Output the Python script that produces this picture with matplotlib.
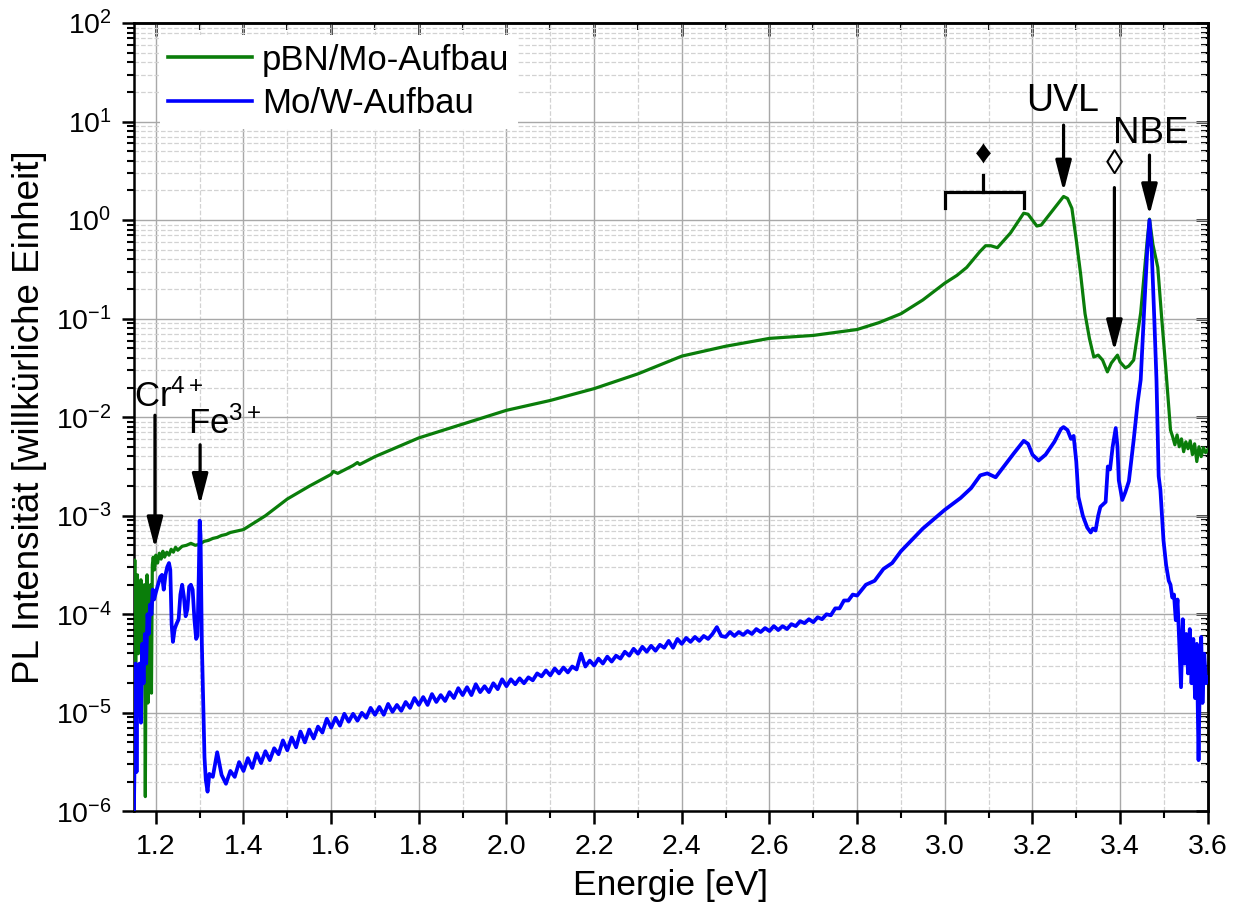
import matplotlib
matplotlib.use('Agg')
import matplotlib.pyplot as plt
import numpy as np
from matplotlib.ticker import LogLocator, LogFormatterMathtext, MultipleLocator, NullFormatter

plt.rcParams['font.family'] = ['Liberation Sans', 'DejaVu Sans']
plt.rcParams['mathtext.fontset'] = 'custom'
plt.rcParams['mathtext.rm'] = 'Liberation Sans'
plt.rcParams['mathtext.it'] = 'Liberation Sans:italic'
plt.rcParams['mathtext.bf'] = 'Liberation Sans:bold'

# pBN/Mo-Aufbau: Energie [eV] und log10 der PL-Intensitaet
green_e = [1.150, 1.152, 1.154, 1.156, 1.158, 1.160, 1.162, 1.164, 1.166, 1.168,
           1.170, 1.172, 1.174, 1.176, 1.178, 1.180, 1.182, 1.184, 1.186, 1.188,
           1.190, 1.192, 1.194, 1.197, 1.200, 1.204, 1.208, 1.212, 1.216, 1.220,
           1.225, 1.230, 1.235, 1.240, 1.245, 1.250, 1.260, 1.270, 1.280, 1.290,
           1.300, 1.310, 1.320, 1.330, 1.340, 1.350, 1.360, 1.370, 1.380, 1.400,
           1.450, 1.500, 1.550, 1.600, 1.605, 1.615, 1.650, 1.660, 1.665, 1.700,
           1.800, 1.900, 2.000, 2.100, 2.200, 2.300, 2.400, 2.500, 2.600, 2.700,
           2.800, 2.850, 2.900, 2.950, 3.000, 3.028, 3.050, 3.080, 3.093, 3.105,
           3.120, 3.150, 3.180, 3.190, 3.210, 3.220, 3.250, 3.271, 3.280, 3.290,
           3.300, 3.310, 3.320, 3.330, 3.340, 3.350, 3.360, 3.371, 3.380, 3.394,
           3.400, 3.412, 3.420, 3.431, 3.440, 3.447, 3.455, 3.462, 3.467, 3.475,
           3.486, 3.495, 3.504, 3.515, 3.520, 3.525, 3.530, 3.535, 3.540, 3.545,
           3.550, 3.555, 3.560, 3.565, 3.570, 3.575, 3.580, 3.585, 3.590, 3.595,
           3.600]
green_log10 = [-4.30, -3.45, -4.50, -3.90, -3.60, -4.40, -3.70, -4.10, -3.65, -4.60,
               -3.80, -4.20, -3.70, -5.85, -4.00, -3.60, -4.90, -3.75, -4.30, -3.70,
               -4.80, -3.50, -3.42, -3.55, -3.40, -3.48, -3.38, -3.44, -3.36, -3.42,
               -3.37, -3.40, -3.34, -3.37, -3.32, -3.35, -3.31, -3.30, -3.28, -3.30,
               -3.29, -3.26, -3.25, -3.23, -3.22, -3.20, -3.19, -3.17, -3.16, -3.14,
               -3.00, -2.83, -2.70, -2.58, -2.55, -2.57, -2.49, -2.46, -2.48, -2.40,
               -2.21, -2.07, -1.93, -1.83, -1.71, -1.56, -1.38, -1.28, -1.20, -1.17,
               -1.11, -1.04, -0.95, -0.81, -0.64, -0.56, -0.48, -0.32, -0.26, -0.26,
               -0.28, -0.13, 0.07, 0.06, -0.06, -0.05, 0.12, 0.24, 0.22, 0.12,
               -0.20, -0.55, -0.95, -1.20, -1.39, -1.37, -1.42, -1.54, -1.45, -1.37,
               -1.44, -1.50, -1.48, -1.42, -1.15, -0.94, -0.55, -0.20, 0.01, -0.25,
               -0.48, -1.00, -1.49, -2.13, -2.20, -2.28, -2.18, -2.30, -2.22, -2.35,
               -2.25, -2.32, -2.24, -2.38, -2.27, -2.45, -2.30, -2.40, -2.31, -2.36,
               -2.33]

# Mo/W-Aufbau
blue_e = [1.150, 1.152, 1.154, 1.156, 1.158, 1.160, 1.163, 1.166, 1.169, 1.172,
          1.175, 1.178, 1.181, 1.184, 1.187, 1.190, 1.193, 1.196, 1.200, 1.205,
          1.210, 1.214, 1.218, 1.222, 1.226, 1.230, 1.233, 1.236, 1.239, 1.243,
          1.247, 1.252, 1.256, 1.260, 1.264, 1.268, 1.272, 1.276, 1.280, 1.284,
          1.288, 1.292, 1.295, 1.298, 1.300, 1.302, 1.305, 1.308, 1.311, 1.314,
          1.318, 1.322,
          1.33, 1.34, 1.35, 1.36, 1.37, 1.38, 1.39, 1.40, 1.41, 1.42,
          1.43, 1.44, 1.45, 1.46, 1.47, 1.48, 1.49, 1.50, 1.51, 1.52,
          1.53, 1.54, 1.55, 1.56, 1.57, 1.58, 1.59, 1.60, 1.61, 1.62,
          1.63, 1.64, 1.65, 1.66, 1.67, 1.68, 1.69, 1.70, 1.71, 1.72,
          1.73, 1.74, 1.75, 1.76, 1.77, 1.78, 1.79, 1.80, 1.81, 1.82,
          1.83, 1.84, 1.85, 1.86, 1.87, 1.88, 1.89, 1.90, 1.91, 1.92,
          1.93, 1.94, 1.95, 1.96, 1.97, 1.98, 1.99, 2.00, 2.01, 2.02,
          2.03, 2.04, 2.05, 2.06, 2.07, 2.08, 2.09, 2.10, 2.11, 2.12,
          2.13, 2.14, 2.15, 2.16, 2.17, 2.18, 2.19, 2.20, 2.21, 2.22,
          2.23, 2.24, 2.25, 2.26, 2.27, 2.28, 2.29, 2.30, 2.31, 2.32,
          2.33, 2.34, 2.35, 2.36, 2.37, 2.38, 2.39, 2.40, 2.41, 2.42,
          2.43, 2.44, 2.45, 2.46, 2.47, 2.48, 2.49, 2.50, 2.51, 2.52,
          2.53, 2.54, 2.55, 2.56, 2.57, 2.58, 2.59, 2.60, 2.61, 2.62,
          2.63, 2.64, 2.65, 2.66, 2.67, 2.68, 2.69, 2.70, 2.71, 2.72,
          2.73, 2.74, 2.75, 2.76, 2.77, 2.78, 2.79, 2.80, 2.82, 2.84,
          2.86, 2.88, 2.90, 2.95,
          3.000, 3.036, 3.060, 3.081, 3.097, 3.116, 3.140, 3.157, 3.180, 3.190,
          3.200, 3.214, 3.230, 3.250, 3.265, 3.271, 3.280, 3.288, 3.294, 3.300,
          3.305, 3.315, 3.325, 3.333, 3.338, 3.344, 3.350, 3.355, 3.367, 3.372,
          3.377, 3.383, 3.390, 3.394, 3.397, 3.405, 3.412, 3.420, 3.431, 3.440,
          3.447, 3.455, 3.462, 3.467, 3.472, 3.478, 3.483, 3.488, 3.492, 3.499,
          3.505, 3.511, 3.515, 3.519, 3.523, 3.527, 3.531, 3.535, 3.539, 3.543,
          3.547, 3.551, 3.555, 3.559, 3.563, 3.567, 3.571, 3.575, 3.579, 3.582,
          3.585, 3.588, 3.592, 3.596, 3.600]
blue_log10 = [-6.00, -5.30, -4.50, -5.60, -4.60, -4.90, -4.50, -5.10, -4.30, -4.70,
              -4.20, -4.50, -4.00, -4.20, -3.90, -4.00, -3.75, -3.85, -3.78, -3.70,
              -3.62, -3.60, -3.75, -3.60, -3.52, -3.48, -3.55, -4.10, -4.28, -4.15,
              -4.10, -4.05, -3.80, -3.70, -3.82, -4.02, -3.95, -3.72, -3.70, -3.75,
              -4.05, -4.25, -4.22, -3.60, -3.05, -3.20, -4.30, -4.90, -5.45, -5.68,
              -5.80, -5.62,
              -5.65, -5.40, -5.63, -5.72, -5.59, -5.65, -5.50, -5.59, -5.46, -5.56,
              -5.41, -5.51, -5.39, -5.48, -5.36, -5.42, -5.28, -5.38, -5.25, -5.35,
              -5.19, -5.30, -5.17, -5.26, -5.14, -5.20, -5.06, -5.15, -5.05, -5.13,
              -5.01, -5.09, -5.01, -5.08, -5.00, -5.05, -4.95, -5.02, -4.94, -5.02,
              -4.91, -4.99, -4.92, -4.98, -4.89, -4.95, -4.85, -4.92, -4.84, -4.92,
              -4.81, -4.89, -4.82, -4.88, -4.79, -4.85, -4.75, -4.82, -4.74, -4.82,
              -4.71, -4.79, -4.73, -4.79, -4.70, -4.76, -4.66, -4.73, -4.66, -4.71,
              -4.65, -4.70, -4.64, -4.67, -4.60, -4.63, -4.57, -4.62, -4.55, -4.60,
              -4.54, -4.59, -4.53, -4.56, -4.40, -4.53, -4.47, -4.52, -4.45, -4.50,
              -4.43, -4.48, -4.42, -4.45, -4.38, -4.42, -4.35, -4.40, -4.33, -4.38,
              -4.32, -4.37, -4.31, -4.34, -4.27, -4.34, -4.25, -4.30, -4.24, -4.28,
              -4.23, -4.27, -4.22, -4.25, -4.20, -4.13, -4.22, -4.23, -4.18, -4.22,
              -4.18, -4.21, -4.17, -4.20, -4.15, -4.18, -4.14, -4.17, -4.12, -4.16,
              -4.12, -4.15, -4.10, -4.12, -4.07, -4.09, -4.05, -4.08, -4.03, -4.05,
              -4.00, -4.01, -3.94, -3.94, -3.86, -3.86, -3.80, -3.81, -3.70, -3.66,
              -3.54, -3.48, -3.36, -3.13,
              -2.94, -2.82, -2.72, -2.59, -2.57, -2.61, -2.47, -2.37, -2.24, -2.27,
              -2.38, -2.44, -2.38, -2.25, -2.12, -2.10, -2.13, -2.22, -2.19, -2.45,
              -2.81, -3.00, -3.12, -3.17, -3.13, -3.15, -3.00, -2.91, -2.86, -2.50,
              -2.53, -2.30, -2.11, -2.30, -2.64, -2.84, -2.76, -2.65, -2.23, -1.85,
              -1.62, -0.90, -0.30, 0.00, -0.30, -1.00, -1.62, -2.60, -2.74, -3.25,
              -3.50, -3.66, -3.70, -3.83, -3.80, -4.06, -3.85, -4.30, -4.74, -4.05,
              -4.50, -4.20, -4.60, -4.15, -4.70, -4.25, -4.85, -4.30, -5.48, -4.60,
              -4.23, -4.90, -4.40, -4.70, -4.64]

fig = plt.figure(figsize=(12.4, 9.22), dpi=100)
ax = fig.add_axes([0.108, 0.120, 0.866, 0.855])
ax.set_yscale('log')

ax.plot(green_e, 10.0 ** np.array(green_log10), color='#0a7d0a', lw=2.3,
        label='pBN/Mo-Aufbau', zorder=3)
ax.plot(blue_e, 10.0 ** np.array(blue_log10), color='#0000ff', lw=2.7,
        label='Mo/W-Aufbau', zorder=4)

ax.set_xlim(1.15, 3.6)
ax.set_ylim(1e-6, 1e2)

ax.xaxis.set_major_locator(MultipleLocator(0.2))
ax.xaxis.set_minor_locator(MultipleLocator(0.1))
ax.xaxis.set_major_formatter(plt.FormatStrFormatter('%.1f'))
ax.yaxis.set_major_locator(LogLocator(base=10, numticks=20))
ax.yaxis.set_minor_locator(LogLocator(base=10, subs=np.arange(2, 10), numticks=20))
ax.yaxis.set_major_formatter(LogFormatterMathtext())
ax.yaxis.set_minor_formatter(NullFormatter())

ax.grid(which='major', color='#a8a8a8', lw=1.0, ls='-')
ax.grid(which='minor', color='#d2d2d2', lw=0.9, ls='--')
ax.set_axisbelow(True)

ax.tick_params(which='major', direction='out', length=9, width=1.8, labelsize=20.5, pad=7)
ax.tick_params(which='minor', direction='out', length=5, width=1.5)
for s in ax.spines.values():
    s.set_linewidth(1.8)

# inward ticks on top and right
secx = ax.secondary_xaxis('top')
secx.xaxis.set_major_locator(MultipleLocator(0.2))
secx.xaxis.set_minor_locator(MultipleLocator(0.1))
secx.tick_params(which='major', direction='in', length=9, width=1.8, labeltop=False)
secx.tick_params(which='minor', direction='in', length=5, width=1.5)
secx.spines['top'].set_linewidth(1.8)

secy = ax.secondary_yaxis('right', functions=(lambda v: v, lambda v: v))
secy.yaxis.set_major_locator(LogLocator(base=10, numticks=20))
secy.yaxis.set_minor_locator(LogLocator(base=10, subs=np.arange(2, 10), numticks=20))
secy.tick_params(which='major', direction='in', length=9, width=1.8, labelright=False)
secy.tick_params(which='minor', direction='in', length=5, width=1.5)
secy.spines['right'].set_linewidth(1.8)

ax.set_xlabel('Energie [eV]', fontsize=25.5, labelpad=7)
ax.set_ylabel('PL Intensität [willkürliche Einheit]', fontsize=26.5, labelpad=6)

leg = ax.legend(loc='upper left', bbox_to_anchor=(0.024, 0.985), fontsize=25,
                handlelength=2.4, handletextpad=0.3, labelspacing=0.3, borderpad=0.25,
                borderaxespad=0.0, frameon=True, fancybox=False, edgecolor='none',
                facecolor='white', framealpha=1.0)
for ln in leg.get_lines():
    ln.set_linewidth(2.6)

arrow = dict(arrowstyle='-|>,head_length=0.85,head_width=0.22', color='black',
             lw=2.3, shrinkA=0, shrinkB=0, mutation_scale=22)

# Cr4+ und Fe3+
ax.annotate('', xy=(1.198, 10 ** -3.33), xytext=(1.198, 10 ** -1.98), arrowprops=arrow)
ax.text(1.230, 10 ** -1.79, 'Cr$^{4+}$', fontsize=25, ha='center', va='center')
ax.annotate('', xy=(1.301, 10 ** -2.89), xytext=(1.301, 10 ** -2.28), arrowprops=arrow)
ax.text(1.357, 10 ** -2.06, 'Fe$^{3+}$', fontsize=25, ha='center', va='center')

# Klammer ueber den Schultern bei 3.0-3.18 eV
kx0, kx1, kxm = 3.0, 3.18, 3.088
ky, kyl, kyt = 10 ** 0.284, 10 ** 0.12, 10 ** 0.457
ax.plot([kx0, kx0, kx1, kx1], [kyl, ky, ky, kyl], color='black', lw=2.3,
        solid_joinstyle='miter', zorder=5)
ax.plot([kxm, kxm], [ky, kyt], color='black', lw=2.3, zorder=5)
ax.text(kxm, 10 ** 0.66, '\u2666', fontsize=24, ha='center', va='center')

# UVL, Raute, NBE
ax.annotate('', xy=(3.271, 10 ** 0.29), xytext=(3.271, 10 ** 0.964), arrowprops=arrow)
ax.text(3.268, 10 ** 1.21, 'UVL', fontsize=27, ha='center', va='center')
ax.annotate('', xy=(3.387, 10 ** -1.33), xytext=(3.387, 10 ** 0.33), arrowprops=arrow)
ax.text(3.387, 10 ** 0.56, '\u25CA', fontsize=25, ha='center', va='center')
ax.annotate('', xy=(3.467, 10 ** 0.05), xytext=(3.467, 10 ** 0.66), arrowprops=arrow)
ax.text(3.470, 10 ** 0.88, 'NBE', fontsize=26.5, ha='center', va='center')

fig.savefig('out.png', dpi=100)
